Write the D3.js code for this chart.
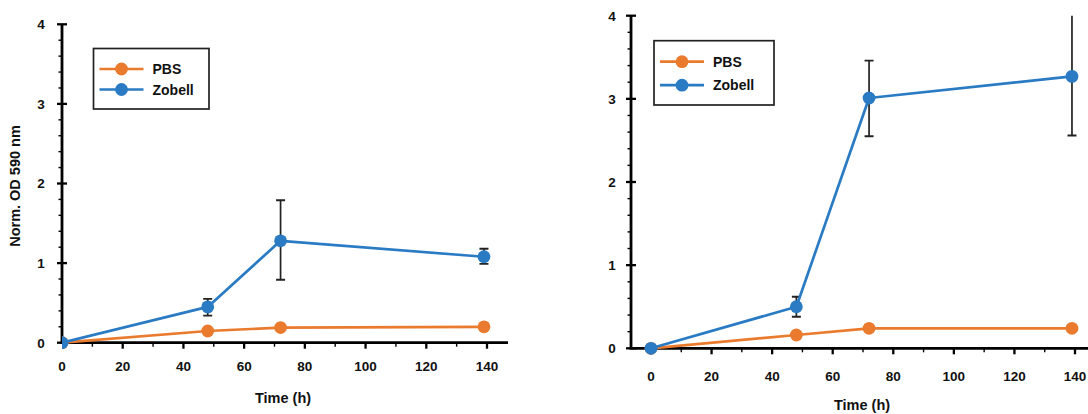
<!DOCTYPE html>
<html>
<head>
<meta charset="utf-8">
<script src="https://cdn.jsdelivr.net/npm/d3@7"></script>
<style>
  html, body { margin: 0; padding: 0; background: #fff; }
  svg { display: block; }
  text { font-family: "Liberation Sans", Arial, sans-serif; font-weight: bold; fill: #111; }
</style>
</head>
<body>
<svg id="chart" width="1088" height="414"></svg>
<script>
// Sampling times (h)
const times = [0, 48, 72, 139];

// Panel A
const pbsA = [0, 0.147, 0.19, 0.20];
const zobellA = [0, 0.45, 1.28, 1.08];
const zobellA_lo = [0, 0.34, 0.79, 0.99];
const zobellA_hi = [0, 0.55, 1.79, 1.18];

// Panel B
const pbsB = [0, 0.16, 0.24, 0.24];
const zobellB = [0, 0.50, 3.01, 3.27];
const zobellB_lo = [0, 0.38, 2.55, 2.56];
const zobellB_hi = [0, 0.62, 3.46, 4.3];

const xTicks = [0, 20, 40, 60, 80, 100, 120, 140];
const xMinor = [10, 30, 50, 70, 90, 110, 130];
const yTicks = [0, 1, 2, 3, 4];
const seriesNames = ["PBS", "Zobell"];
const yTitle = "Norm. OD 590 nm";
const xTitle = "Time (h)";

const COLORS = { PBS: "#EA7B2E", Zobell: "#2A7BC3" };

const svg = d3.select("#chart");

function panel(cfg) {
  const g = svg.append("g");
  const x = d3.scaleLinear().domain([0, 140]).range([cfg.x0, cfg.x140]);
  const y = d3.scaleLinear().domain([0, 4]).range([cfg.y0, cfg.y4]);
  const axisX = x(cfg.xAxisStart);

  const clipId = "clip" + cfg.id;
  g.append("clipPath").attr("id", clipId)
    .append("rect")
    .attr("x", axisX).attr("y", y(4))
    .attr("width", cfg.xAxisEnd - axisX).attr("height", y(0) - y(4) + 20);

  // y axis: major ticks cross the spine, minor ticks every 0.2 on the outside
  const yAxis = g.append("g").attr("transform", `translate(${axisX},0)`);
  yAxis.append("line")
    .attr("x1", 0).attr("x2", 0).attr("y1", y(4)).attr("y2", y(0))
    .attr("stroke", "#000").attr("stroke-width", 2.8);
  const yMinor = d3.range(0, 4.0001, 0.2).filter(v => Math.abs(v - Math.round(v)) > 1e-6);
  yAxis.selectAll("line.minor").data(yMinor).join("line")
    .attr("class", "minor")
    .attr("x1", -3.5).attr("x2", 0).attr("y1", d => y(d)).attr("y2", d => y(d))
    .attr("stroke", "#000").attr("stroke-width", 1.4);
  yAxis.selectAll("line.major").data(yTicks).join("line")
    .attr("class", "major")
    .attr("x1", -5).attr("x2", 5).attr("y1", d => y(d)).attr("y2", d => y(d))
    .attr("stroke", "#000").attr("stroke-width", 2.3);
  yAxis.selectAll("text").data(yTicks).join("text")
    .attr("x", cfg.yLabelDx).attr("y", d => y(d)).attr("dy", "0.36em")
    .attr("text-anchor", "middle").attr("font-size", 13.5)
    .text(d => d);

  // x axis
  const xAxis = g.append("g").attr("transform", `translate(0,${y(0)})`);
  xAxis.append("line")
    .attr("x1", axisX - 1.4).attr("x2", cfg.xAxisEnd).attr("y1", 0).attr("y2", 0)
    .attr("stroke", "#000").attr("stroke-width", 2.8);
  xAxis.selectAll("line.minor").data(xMinor).join("line")
    .attr("class", "minor")
    .attr("x1", d => x(d)).attr("x2", d => x(d)).attr("y1", 0).attr("y2", 4)
    .attr("stroke", "#000").attr("stroke-width", 1.4);
  xAxis.selectAll("line.major").data(xTicks.filter(d => x(d) > axisX + 2)).join("line")
    .attr("class", "major")
    .attr("x1", d => x(d)).attr("x2", d => x(d)).attr("y1", 0).attr("y2", 6)
    .attr("stroke", "#000").attr("stroke-width", 2.3);
  xAxis.selectAll("text").data(xTicks).join("text")
    .attr("x", d => x(d)).attr("y", cfg.xLabelDy).attr("dy", "0.36em")
    .attr("text-anchor", "middle").attr("font-size", 13.5)
    .text(d => d);

  // axis titles
  g.append("text")
    .attr("x", cfg.xTitleX).attr("y", cfg.xTitleY)
    .attr("text-anchor", "middle").attr("font-size", 14.5)
    .text(xTitle);
  if (cfg.showYTitle) {
    g.append("text")
      .attr("transform", `translate(${cfg.yTitleX},${cfg.yTitleY}) rotate(-90)`)
      .attr("text-anchor", "middle").attr("dy", "0.36em").attr("font-size", 14.5)
      .text(yTitle);
  }

  const data = seriesNames.map(name => ({
    name,
    values: times.map((t, i) => ({
      t,
      v: name === "PBS" ? cfg.pbs[i] : cfg.zobell[i],
      lo: name === "PBS" ? null : cfg.lo[i],
      hi: name === "PBS" ? null : cfg.hi[i]
    }))
  }));

  const plot = g.append("g").attr("clip-path", `url(#${clipId})`);

  // error bars for Zobell
  const eb = data[1].values.filter(d => d.t > 0);
  plot.selectAll("line.err").data(eb).join("line")
    .attr("class", "err")
    .attr("x1", d => x(d.t)).attr("x2", d => x(d.t))
    .attr("y1", d => y(d.lo)).attr("y2", d => y(d.hi))
    .attr("stroke", "#222").attr("stroke-width", 1.7);
  const caps = eb.flatMap(d => [d.lo, d.hi].map(v => ({ t: d.t, v })));
  plot.selectAll("line.cap").data(caps).join("line")
    .attr("class", "cap")
    .attr("x1", d => x(d.t) - 4.5).attr("x2", d => x(d.t) + 4.5)
    .attr("y1", d => y(d.v)).attr("y2", d => y(d.v))
    .attr("stroke", "#222").attr("stroke-width", 1.9);

  const line = d3.line().x(d => x(d.t)).y(d => y(d.v));
  data.forEach(s => {
    plot.append("path")
      .attr("d", line(s.values))
      .attr("fill", "none").attr("stroke", COLORS[s.name]).attr("stroke-width", 2.7)
      .attr("stroke-linejoin", "round");
    plot.selectAll(null).data(s.values).join("circle")
      .attr("cx", d => x(d.t)).attr("cy", d => y(d.v)).attr("r", 6.4)
      .attr("fill", COLORS[s.name]);
  });

  // legend
  const lg = g.append("g");
  lg.append("rect")
    .attr("x", cfg.legend.x).attr("y", cfg.legend.y)
    .attr("width", cfg.legend.w).attr("height", cfg.legend.h)
    .attr("fill", "#fff").attr("stroke", "#222").attr("stroke-width", 1.7);
  seriesNames.forEach((name, i) => {
    const ly = cfg.legend.y + cfg.legend.row0 + i * cfg.legend.rowGap;
    const lx = cfg.legend.x + 6;
    lg.append("line")
      .attr("x1", lx).attr("x2", lx + 44).attr("y1", ly).attr("y2", ly)
      .attr("stroke", COLORS[name]).attr("stroke-width", 2.7);
    lg.append("circle")
      .attr("cx", lx + 22).attr("cy", ly).attr("r", 6.4)
      .attr("fill", COLORS[name]);
    lg.append("text")
      .attr("x", lx + 53).attr("y", ly).attr("dy", "0.36em")
      .attr("font-size", 14)
      .text(name);
  });
}

panel({
  id: "A",
  pbs: pbsA, zobell: zobellA, lo: zobellA_lo, hi: zobellA_hi,
  x0: 62, x140: 487, y0: 342.7, y4: 24.3,
  xAxisStart: 0, xAxisEnd: 508,
  yLabelDx: -21, xLabelDy: 23,
  xTitleX: 283, xTitleY: 403,
  showYTitle: true, yTitleX: 15, yTitleY: 186,
  legend: { x: 93.5, y: 48.5, w: 115.5, h: 60.5, row0: 20.5, rowGap: 20.5 }
});

panel({
  id: "B",
  pbs: pbsB, zobell: zobellB, lo: zobellB_lo, hi: zobellB_hi,
  x0: 651, x140: 1075, y0: 348.3, y4: 15.7,
  xAxisStart: -6.6, xAxisEnd: 1090,
  yLabelDx: -19, xLabelDy: 28,
  xTitleX: 862, xTitleY: 409.5,
  showYTitle: false,
  legend: { x: 654, y: 40.7, w: 120, h: 64.3, row0: 21, rowGap: 23.5 }
});
</script>
</body>
</html>
